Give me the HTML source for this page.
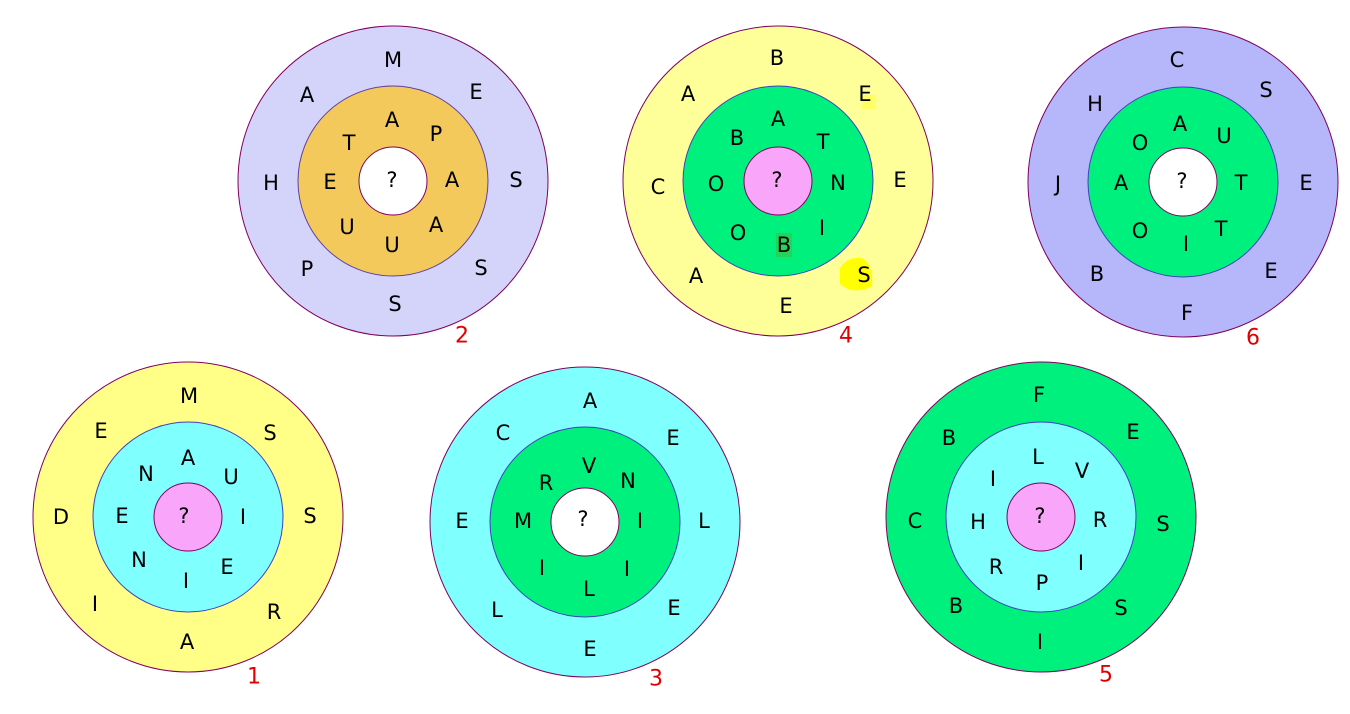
<!DOCTYPE html>
<html><head><meta charset="utf-8"><style>
body{margin:0;background:#fff;}
svg text{font-family:"DejaVu Sans","Liberation Sans",sans-serif;font-size:21px;text-anchor:middle;dominant-baseline:central;fill:#000;}
svg text.n{fill:#e00000;font-size:22px;}
</style></head><body>
<svg width="1350" height="709" viewBox="0 0 1350 709" xmlns="http://www.w3.org/2000/svg">
<g stroke="#800060" stroke-width="1">
<circle cx="393" cy="181" r="155" fill="#d4d4fb"/><circle cx="393" cy="181" r="95" fill="#f3c95c" stroke="#6040a0"/><circle cx="393" cy="181" r="34" fill="#fff"/>
<circle cx="778" cy="181" r="155" fill="#ffff99"/><circle cx="778" cy="181" r="95" fill="#00f07e" stroke="#4040c0"/><circle cx="778" cy="181" r="34" fill="#f9a5f9"/>
<circle cx="1183" cy="182" r="155" fill="#b6b6fb"/><circle cx="1183" cy="182" r="95" fill="#00f07e" stroke="#4040c0"/><circle cx="1183" cy="182" r="34" fill="#fff"/>
<circle cx="188" cy="517" r="155" fill="#ffff88"/><circle cx="188" cy="517" r="95" fill="#80ffff" stroke="#4040c0"/><circle cx="188" cy="517" r="34" fill="#f9a5f9"/>
<circle cx="585" cy="522" r="155" fill="#80ffff"/><circle cx="585" cy="522" r="95" fill="#00f07e" stroke="#4040c0"/><circle cx="585" cy="522" r="34" fill="#fff"/>
<circle cx="1041" cy="517" r="155" fill="#00f07e"/><circle cx="1041" cy="517" r="95" fill="#80ffff" stroke="#4040c0"/><circle cx="1041" cy="517" r="34" fill="#f9a5f9"/>
</g>
<!-- 2 -->
<text x="393" y="60">M</text><text x="307" y="95">A</text><text x="476" y="92">E</text><text x="271" y="183">H</text><text x="516" y="180">S</text><text x="307" y="269">P</text><text x="481" y="268">S</text><text x="395" y="304">S</text>
<text x="392" y="120">A</text><text x="349" y="143">T</text><text x="436" y="134">P</text><text x="330" y="182">E</text><text x="452" y="180">A</text><text x="347" y="227">U</text><text x="392" y="245">U</text><text x="436" y="225">A</text><text x="392" y="180">?</text>
<text class="n" x="462" y="336">2</text>
<!-- 4 -->
<rect x="862" y="95" width="14" height="14" fill="#ffff40" opacity="0.6"/>
<path d="M840 268 q8 -12 22 -10 q12 8 10 28 q-18 10 -32 -2z" fill="#ffff00"/>
<text x="777" y="58">B</text><text x="688" y="94">A</text><text x="865" y="94">E</text><text x="658" y="187">C</text><text x="900" y="180">E</text><text x="696" y="276">A</text><text x="864" y="275">S</text><text x="786" y="306">E</text>
<text x="778" y="119">A</text><text x="737" y="138">B</text><text x="823" y="142">T</text><text x="716" y="184">O</text><text x="838" y="183">N</text><text x="738" y="233">O</text><text x="822" y="228">I</text><rect x="776" y="233" width="16" height="24" fill="#40c040" opacity="0.6"/><text x="784" y="245">B</text><text x="777" y="180">?</text>
<text class="n" x="846" y="336">4</text>
<!-- 6 -->
<text x="1177" y="60">C</text><text x="1095" y="104">H</text><text x="1266" y="90">S</text><text x="1058" y="184">J</text><text x="1306" y="183">E</text><text x="1097" y="274">B</text><text x="1271" y="271">E</text><text x="1187" y="313">F</text>
<text x="1180" y="124">A</text><text x="1140" y="143">O</text><text x="1224" y="136">U</text><text x="1121" y="183">A</text><text x="1241" y="183">T</text><text x="1140" y="231">O</text><text x="1221" y="229">T</text><text x="1186" y="244">I</text><text x="1182" y="181">?</text>
<text class="n" x="1253" y="338">6</text>
<!-- 1 -->
<text x="189" y="396">M</text><text x="101" y="431">E</text><text x="270" y="433">S</text><text x="61" y="517">D</text><text x="310" y="516">S</text><text x="95" y="604">I</text><text x="274" y="612">R</text><text x="187" y="642">A</text>
<text x="188" y="458">A</text><text x="146" y="474">N</text><text x="231" y="477">U</text><text x="122" y="516">E</text><text x="243" y="517">I</text><text x="139" y="560">N</text><text x="227" y="567">E</text><text x="186" y="581">I</text><text x="184" y="516">?</text>
<text class="n" x="254" y="677">1</text>
<!-- 3 -->
<text x="590" y="401">A</text><text x="503" y="433">C</text><text x="673" y="438">E</text><text x="462" y="521">E</text><text x="704" y="521">L</text><text x="497" y="610">L</text><text x="674" y="608">E</text><text x="590" y="649">E</text>
<text x="589" y="466">V</text><text x="546" y="483">R</text><text x="628" y="481">N</text><text x="523" y="521">M</text><text x="640" y="521">I</text><text x="542" y="568">I</text><text x="627" y="569">I</text><text x="589" y="589">L</text><text x="583" y="519">?</text>
<text class="n" x="656" y="679">3</text>
<!-- 5 -->
<text x="1039" y="395">F</text><text x="949" y="438">B</text><text x="1133" y="432">E</text><text x="915" y="521">C</text><text x="1163" y="524">S</text><text x="956" y="606">B</text><text x="1121" y="608">S</text><text x="1040" y="642">I</text>
<text x="1038" y="457">L</text><text x="993" y="479">I</text><text x="1082" y="471">V</text><text x="978" y="522">H</text><text x="1100" y="520">R</text><text x="996" y="567">R</text><text x="1081" y="563">I</text><text x="1042" y="583">P</text><text x="1040" y="516">?</text>
<text class="n" x="1106" y="675">5</text>
</svg>
</body></html>
